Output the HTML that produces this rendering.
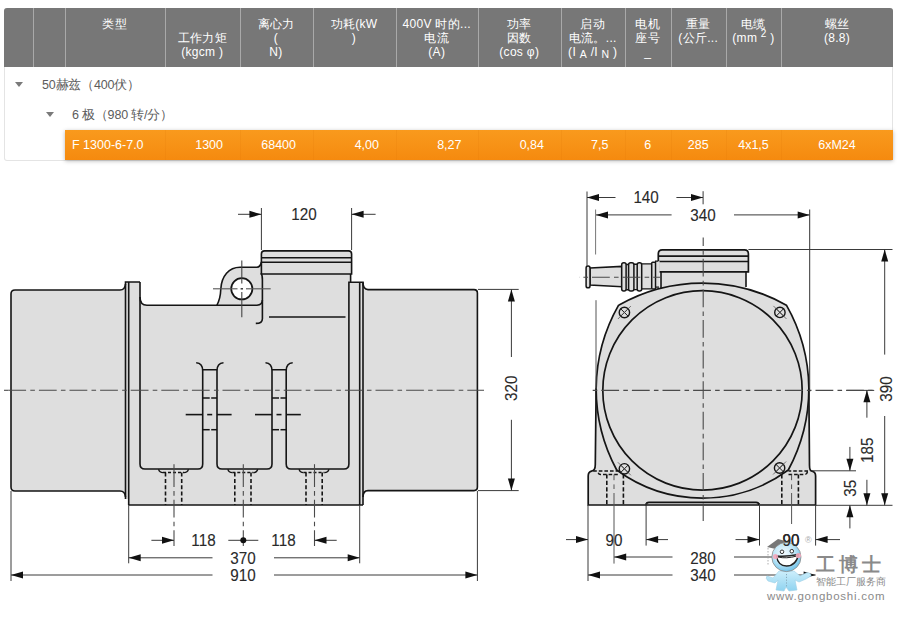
<!DOCTYPE html>
<html><head><meta charset="utf-8">
<style>
html,body{margin:0;padding:0;background:#fff;width:900px;height:617px;overflow:hidden;position:relative;font-family:"Liberation Sans",sans-serif;}
.tbl{position:absolute;left:4px;top:8px;width:889px;height:152.5px;border:1px solid #e4e4e4;border-top:none;box-sizing:border-box;border-radius:3px;background:#fff;}
.hdr{position:absolute;left:4px;top:8px;width:889px;height:59px;background:#777;border-radius:3px 3px 0 0;}
.vd{position:absolute;top:8px;height:59px;width:1px;background:#a9a9a9;}
.ht{position:absolute;color:#fff;font-size:12px;line-height:14px;text-align:center;white-space:nowrap;letter-spacing:0.3px;}
.row{position:absolute;color:#5c5c5c;font-size:12.5px;letter-spacing:-0.2px;}
.tri{position:absolute;width:0;height:0;border-left:4.5px solid transparent;border-right:4.5px solid transparent;border-top:5px solid #7a7a7a;}
.org{position:absolute;left:65px;top:130px;width:828px;height:29.5px;background:linear-gradient(#f99a1d,#f58a0f);box-shadow:0 1px 4px rgba(0,0,0,0.28);}
.od{position:absolute;top:130px;height:29.5px;width:1px;background:rgba(210,110,0,0.12);}
.ot{position:absolute;top:137px;color:#fff;font-size:12.5px;line-height:16px;white-space:nowrap;}
svg{position:absolute;left:0;top:0;}
svg text{font-family:"Liberation Sans",sans-serif;}
</style></head><body>
<div class="tbl"></div>
<div class="hdr"></div>
<div class="vd" style="left:33px"></div>
<div class="vd" style="left:64.5px"></div>
<div class="vd" style="left:165px"></div>
<div class="vd" style="left:239.5px"></div>
<div class="vd" style="left:312.5px"></div>
<div class="vd" style="left:395.5px"></div>
<div class="vd" style="left:478px"></div>
<div class="vd" style="left:560.5px"></div>
<div class="vd" style="left:625px"></div>
<div class="vd" style="left:670.5px"></div>
<div class="vd" style="left:726px"></div>
<div class="vd" style="left:781px"></div>
<div class="ht" style="left:64.5px;width:100.5px;top:17px">类型</div>
<div class="ht" style="left:165px;width:74.5px;top:17px">&nbsp;<br>工作力矩<br>(kgcm )</div>
<div class="ht" style="left:239.5px;width:73.0px;top:17px">离心力<br>(<br>N)</div>
<div class="ht" style="left:312.5px;width:83.0px;top:17px">功耗(kW<br>)</div>
<div class="ht" style="left:395.5px;width:82.5px;top:17px">400V 时的...<br>电流<br>(A)</div>
<div class="ht" style="left:478px;width:82.5px;top:17px">功率<br>因数<br>(cos φ)</div>
<div class="ht" style="left:560.5px;width:64.5px;top:17px">启动<br>电流。...<br>(I <span style="font-size:10.5px;position:relative;top:2px">A</span> /I <span style="font-size:10.5px;position:relative;top:2px">N</span> )</div>
<div class="ht" style="left:625px;width:45.5px;top:17px">电机<br>座号<br>_</div>
<div class="ht" style="left:670.5px;width:55.5px;top:17px">重量<br>(公斤...</div>
<div class="ht" style="left:726px;width:55px;top:17px">电缆<br>(mm <sup style="font-size:10px;vertical-align:5px;line-height:0">2</sup> )</div>
<div class="ht" style="left:781px;width:112px;top:17px">螺丝<br>(8.8)</div>
<div class="tri" style="left:15px;top:82px"></div>
<div class="row" style="left:42px;top:77px">50赫兹（400伏）</div>
<div class="tri" style="left:46px;top:112px"></div>
<div class="row" style="left:72px;top:107px">6 极（980 转/分）</div>
<div class="org"></div>
<div class="od" style="left:165px"></div>
<div class="od" style="left:239.5px"></div>
<div class="od" style="left:312.5px"></div>
<div class="od" style="left:395.5px"></div>
<div class="od" style="left:478px"></div>
<div class="od" style="left:560.5px"></div>
<div class="od" style="left:625px"></div>
<div class="od" style="left:670.5px"></div>
<div class="od" style="left:726px"></div>
<div class="od" style="left:781px"></div>
<div class="ot" style="left:72px">F 1300-6-7.0</div>
<div class="ot" style="left:139.5px;width:83.5px;text-align:right">1300</div>
<div class="ot" style="left:212.5px;width:83.5px;text-align:right">68400</div>
<div class="ot" style="left:295.5px;width:83.5px;text-align:right">4,00</div>
<div class="ot" style="left:378px;width:83.5px;text-align:right">8,27</div>
<div class="ot" style="left:460.5px;width:83.5px;text-align:right">0,84</div>
<div class="ot" style="left:525px;width:83.5px;text-align:right">7,5</div>
<div class="ot" style="left:625px;width:45.5px;text-align:center">6</div>
<div class="ot" style="left:670.5px;width:55.5px;text-align:center">285</div>
<div class="ot" style="left:726px;width:55px;text-align:center">4x1,5</div>
<div class="ot" style="left:781px;width:112px;text-align:center">6xM24</div>
<svg width="900" height="617" viewBox="0 0 900 617">
<path d="M11,294 Q11,290 15,290 L120,290 Q125,290 125.5,284 L125.5,282 L140,282 L140,297 Q140,305.3 147,305.3 L216.8,305.3 C219.8,300 220.6,295 220.8,289 C221.5,276 229,267.3 240,267.3 L256.9,267.3 Q260.5,267 261.4,262 L261.4,254 Q261.4,250.9 264.5,250.9 L348.5,250.9 Q351.6,250.9 351.6,254 L351.6,274 L350.6,274 L350.6,282.3 L363,282.3 Q363,289.6 368,289.6 L474,289.6 Q477.4,289.6 477.4,293 L477.4,487 Q477.4,490.6 474,490.6 L368,490.6 Q363,490.6 363,497 L363,505 L129,505 L129,499 L125.5,499 Q125,491 120,491 L15,491 Q11,491 11,487 Z" fill="#dedede" stroke="none" stroke-width="1.6" />
<path d="M125.5,284 Q125,290 120,290 L15,290 Q11,290 11,294 L11,487 Q11,491 15,491 L120,491 Q125,491 125.5,497" fill="none" stroke="#151515" stroke-width="1.6" />
<path d="M125.5,499 L125.5,282 L140,282" fill="none" stroke="#151515" stroke-width="1.6" />
<path d="M128.7,282 L128.7,505" fill="none" stroke="#151515" stroke-width="1.6" />
<path d="M140,282 L140,297 Q140,305.3 147,305.3 L216.8,305.3 C219.8,300 220.6,295 220.8,289 C221.5,276 229,267.3 240,267.3 L256.9,267.3 Q260.5,267 261.4,262" fill="none" stroke="#151515" stroke-width="1.6" />
<path d="M216.8,305.3 L257,305.3 Q262.4,305 262.4,299.8 L262.4,280 Q262.4,275 261,273" fill="none" stroke="#151515" stroke-width="1.6" />
<path d="M262.4,300 L262.4,318.7 Q262.4,323.4 255.8,323.4" fill="none" stroke="#151515" stroke-width="1.6" />
<circle cx="241.8" cy="288.8" r="10.6" fill="#fff" stroke="#151515" stroke-width="1.7"/>
<line x1="213" y1="288.8" x2="237.5" y2="288.8" stroke="#555" stroke-width="1.1" />
<line x1="240.6" y1="288.8" x2="243" y2="288.8" stroke="#333" stroke-width="1.4" />
<line x1="246" y1="288.8" x2="270.7" y2="288.8" stroke="#555" stroke-width="1.1" />
<line x1="241.8" y1="260.4" x2="241.8" y2="283.5" stroke="#444" stroke-width="1.1" />
<line x1="241.8" y1="292" x2="241.8" y2="317.3" stroke="#444" stroke-width="1.1" />
<path d="M261.4,274 L261.4,254 Q261.4,250.9 264.5,250.9 L348.5,250.9 Q351.6,250.9 351.6,254 L351.6,274 Z" fill="#dedede" stroke="#151515" stroke-width="1.6" />
<line x1="261.4" y1="257.8" x2="351.6" y2="257.8" stroke="#151515" stroke-width="1.6" />
<line x1="261.4" y1="262.3" x2="351.6" y2="262.3" stroke="#151515" stroke-width="1.6" />
<path d="M350.6,274 L350.6,282.3" fill="none" stroke="#151515" stroke-width="1.6" />
<line x1="269" y1="317" x2="345.5" y2="317" stroke="#151515" stroke-width="1.6" />
<path d="M348.9,464 L348.9,282.3 L363,282.3 L363,505" fill="none" stroke="#151515" stroke-width="1.6" />
<path d="M359.7,282.3 L359.7,505" fill="none" stroke="#151515" stroke-width="1.6" />
<path d="M363,282.3 Q363,289.6 368,289.6 L474,289.6 Q477.4,289.6 477.4,293 L477.4,487 Q477.4,490.6 474,490.6 L368,490.6 Q363,490.6 363,497" fill="none" stroke="#151515" stroke-width="1.6" />
<line x1="128.7" y1="505" x2="363" y2="505" stroke="#151515" stroke-width="1.7" />
<path d="M140,297 L140,464 Q140,469 145,469 L198,469 Q202.7,469 202.7,464 L202.7,370.8 Q202.7,363 196.2,362.7 M202.7,369.7 L217,369.7 M223.5,362.7 Q217,363 217,370.8 L217,464 Q217,469 222,469 L267,469 Q272,469 272,464 L272,370.8 Q272,363 265.5,362.7 M272,369.7 L286.2,369.7 M292.7,362.7 Q286.2,363 286.2,370.8 L286.2,464 Q286.2,469 291,469 L344,469 Q348.9,469 348.9,464" fill="none" stroke="#151515" stroke-width="1.6" />
<line x1="202.7" y1="398" x2="209.7" y2="398" stroke="#151515" stroke-width="1.5" />
<line x1="211.2" y1="398" x2="217" y2="398" stroke="#151515" stroke-width="1.5" />
<line x1="202.7" y1="429.7" x2="209.7" y2="429.7" stroke="#151515" stroke-width="1.5" />
<line x1="211.2" y1="429.7" x2="217" y2="429.7" stroke="#151515" stroke-width="1.5" />
<line x1="185.7" y1="414.6" x2="202.7" y2="414.6" stroke="#151515" stroke-width="1.6" />
<line x1="207.2" y1="414.6" x2="212.2" y2="414.6" stroke="#151515" stroke-width="1.6" />
<line x1="217" y1="414.6" x2="231.6" y2="414.6" stroke="#151515" stroke-width="1.6" />
<line x1="272" y1="398" x2="279" y2="398" stroke="#151515" stroke-width="1.5" />
<line x1="280.5" y1="398" x2="286.2" y2="398" stroke="#151515" stroke-width="1.5" />
<line x1="272" y1="429.7" x2="279" y2="429.7" stroke="#151515" stroke-width="1.5" />
<line x1="280.5" y1="429.7" x2="286.2" y2="429.7" stroke="#151515" stroke-width="1.5" />
<line x1="255" y1="414.6" x2="272" y2="414.6" stroke="#151515" stroke-width="1.6" />
<line x1="276.5" y1="414.6" x2="281.5" y2="414.6" stroke="#151515" stroke-width="1.6" />
<line x1="286.2" y1="414.6" x2="300.8" y2="414.6" stroke="#151515" stroke-width="1.6" />
<path d="M158.5,469.3 Q159.5,472.6 163.0,472.6 M188.5,469.3 Q187.5,472.6 184.0,472.6" fill="none" stroke="#151515" stroke-width="1.3" />
<line x1="163.0" y1="472.6" x2="184.0" y2="472.6" stroke="#151515" stroke-width="1.5" stroke-dasharray="3,2"/>
<line x1="165.5" y1="472.6" x2="165.5" y2="505" stroke="#151515" stroke-width="1.6" stroke-dasharray="4,2.3"/>
<line x1="181.7" y1="472.6" x2="181.7" y2="505" stroke="#151515" stroke-width="1.6" stroke-dasharray="4,2.3"/>
<line x1="174.0" y1="464.2" x2="174.0" y2="469.6" stroke="#4a4a4a" stroke-width="1.1" />
<line x1="174.0" y1="469.6" x2="174.0" y2="546" stroke="#4a4a4a" stroke-width="1.1" stroke-dasharray="17.8,4.2,4.6,4.0" stroke-dashoffset="0.50"/>
<path d="M227.8,469.3 Q228.8,472.6 232.3,472.6 M257.8,469.3 Q256.8,472.6 253.3,472.6" fill="none" stroke="#151515" stroke-width="1.3" />
<line x1="232.3" y1="472.6" x2="253.3" y2="472.6" stroke="#151515" stroke-width="1.5" stroke-dasharray="3,2"/>
<line x1="234.8" y1="472.6" x2="234.8" y2="505" stroke="#151515" stroke-width="1.6" stroke-dasharray="4,2.3"/>
<line x1="251.0" y1="472.6" x2="251.0" y2="505" stroke="#151515" stroke-width="1.6" stroke-dasharray="4,2.3"/>
<line x1="243.3" y1="464.2" x2="243.3" y2="469.6" stroke="#4a4a4a" stroke-width="1.1" />
<line x1="243.3" y1="469.6" x2="243.3" y2="546" stroke="#4a4a4a" stroke-width="1.1" stroke-dasharray="17.8,4.2,4.6,4.0" stroke-dashoffset="0.50"/>
<path d="M299.0,469.3 Q300.0,472.6 303.5,472.6 M329.0,469.3 Q328.0,472.6 324.5,472.6" fill="none" stroke="#151515" stroke-width="1.3" />
<line x1="303.5" y1="472.6" x2="324.5" y2="472.6" stroke="#151515" stroke-width="1.5" stroke-dasharray="3,2"/>
<line x1="306.0" y1="472.6" x2="306.0" y2="505" stroke="#151515" stroke-width="1.6" stroke-dasharray="4,2.3"/>
<line x1="322.2" y1="472.6" x2="322.2" y2="505" stroke="#151515" stroke-width="1.6" stroke-dasharray="4,2.3"/>
<line x1="314.5" y1="464.2" x2="314.5" y2="469.6" stroke="#4a4a4a" stroke-width="1.1" />
<line x1="314.5" y1="469.6" x2="314.5" y2="546" stroke="#4a4a4a" stroke-width="1.1" stroke-dasharray="17.8,4.2,4.6,4.0" stroke-dashoffset="0.50"/>
<line x1="8.3" y1="390.3" x2="484" y2="390.3" stroke="#4a4a4a" stroke-width="1.1" stroke-dasharray="17.8,4.2,4.6,4.0" stroke-dashoffset="0.00"/>
<line x1="4" y1="390.3" x2="8.3" y2="390.3" stroke="#4a4a4a" stroke-width="1.1" />
<line x1="261.4" y1="208" x2="261.4" y2="250" stroke="#3a3a3a" stroke-width="1" />
<line x1="351.6" y1="208" x2="351.6" y2="250" stroke="#3a3a3a" stroke-width="1" />
<line x1="238" y1="214.3" x2="261.4" y2="214.3" stroke="#3a3a3a" stroke-width="1" />
<polygon points="261.4,214.3 249.4,217.8 249.4,210.8" fill="#111"/>
<line x1="375.6" y1="214.3" x2="351.6" y2="214.3" stroke="#3a3a3a" stroke-width="1" />
<polygon points="351.6,214.3 363.6,210.8 363.6,217.8" fill="#111"/>
<text x="0" y="0" font-size="17.2" fill="#2a2a2a" stroke="#2a2a2a" stroke-width="0.12" text-anchor="middle" dominant-baseline="central" transform="translate(304 213.6) scale(0.885 1)">120</text>
<line x1="478" y1="289.4" x2="518.7" y2="289.4" stroke="#3a3a3a" stroke-width="1" />
<line x1="478" y1="490.6" x2="518.7" y2="490.6" stroke="#3a3a3a" stroke-width="1" />
<line x1="511.4" y1="289.4" x2="511.4" y2="357" stroke="#3a3a3a" stroke-width="1" />
<polygon points="511.4,289.4 514.9,301.4 507.9,301.4" fill="#111"/>
<line x1="511.4" y1="419.8" x2="511.4" y2="490.6" stroke="#3a3a3a" stroke-width="1" />
<polygon points="511.4,490.6 507.9,478.6 514.9,478.6" fill="#111"/>
<text x="0" y="0" font-size="17.2" fill="#2a2a2a" stroke="#2a2a2a" stroke-width="0.12" text-anchor="middle" dominant-baseline="central" transform="translate(511.4 388.2) rotate(-90) translate(0 -0.9) scale(0.885 1)">320</text>
<line x1="11" y1="491" x2="11" y2="581" stroke="#3a3a3a" stroke-width="1" />
<line x1="128.7" y1="505" x2="128.7" y2="563.3" stroke="#3a3a3a" stroke-width="1" />
<line x1="359.7" y1="505" x2="359.7" y2="563.3" stroke="#3a3a3a" stroke-width="1" />
<line x1="477.4" y1="491" x2="477.4" y2="581" stroke="#3a3a3a" stroke-width="1" />
<line x1="151.4" y1="540.3" x2="174" y2="540.3" stroke="#3a3a3a" stroke-width="1" />
<polygon points="174.0,540.3 162.0,543.8 162.0,536.8" fill="#111"/>
<text x="0" y="0" font-size="17.2" fill="#2a2a2a" stroke="#2a2a2a" stroke-width="0.12" text-anchor="middle" dominant-baseline="central" transform="translate(203.5 539.6) scale(0.885 1)">118</text>
<line x1="228.3" y1="540.3" x2="258.3" y2="540.3" stroke="#3a3a3a" stroke-width="1" />
<circle cx="243.3" cy="540.3" r="3" fill="#111"/>
<text x="0" y="0" font-size="17.2" fill="#2a2a2a" stroke="#2a2a2a" stroke-width="0.12" text-anchor="middle" dominant-baseline="central" transform="translate(283.5 539.6) scale(0.885 1)">118</text>
<line x1="336.7" y1="540.3" x2="314.5" y2="540.3" stroke="#3a3a3a" stroke-width="1" />
<polygon points="314.5,540.3 326.5,536.8 326.5,543.8" fill="#111"/>
<line x1="128.7" y1="557.8" x2="212.5" y2="557.8" stroke="#3a3a3a" stroke-width="1" />
<polygon points="128.7,557.8 140.7,554.3 140.7,561.3" fill="#111"/>
<line x1="274" y1="557.8" x2="359.7" y2="557.8" stroke="#3a3a3a" stroke-width="1" />
<polygon points="359.7,557.8 347.7,561.3 347.7,554.3" fill="#111"/>
<text x="0" y="0" font-size="17.2" fill="#2a2a2a" stroke="#2a2a2a" stroke-width="0.12" text-anchor="middle" dominant-baseline="central" transform="translate(243 557.4) scale(0.885 1)">370</text>
<line x1="11" y1="575" x2="212.5" y2="575" stroke="#3a3a3a" stroke-width="1" />
<polygon points="11.0,575.0 23.0,571.5 23.0,578.5" fill="#111"/>
<line x1="274" y1="575" x2="477.4" y2="575" stroke="#3a3a3a" stroke-width="1" />
<polygon points="477.4,575.0 465.4,578.5 465.4,571.5" fill="#111"/>
<text x="0" y="0" font-size="17.2" fill="#2a2a2a" stroke="#2a2a2a" stroke-width="0.12" text-anchor="middle" dominant-baseline="central" transform="translate(243 575.1) scale(0.885 1)">910</text>
<path d="M661,268 L746,268 L746,292 L661,292 Z" fill="#dedede" stroke="none" stroke-width="1.6" />
<path d="M618.6,305.2 A170,170 0 0 1 786.4,305.2 A172,172 0 0 1 808.85,388 L809.5,465.5 Q809.5,470.8 812,471.2 Q815.6,472 815.6,476 L815.6,505 L588.2,505 L588.2,476 Q588.2,472 591.5,471.2 Q595.3,470.8 595.3,464.6 L596.15,388 A172,172 0 0 1 618.6,305.2 Z" fill="#dedede" stroke="none" stroke-width="1.6" />
<path d="M661,271 L661,288.5" fill="none" stroke="#151515" stroke-width="1.6" />
<path d="M746,271 L746,287" fill="none" stroke="#151515" stroke-width="1.6" />
<path d="M618.6,305.2 A170,170 0 0 1 786.4,305.2 A172,172 0 0 1 808.85,388 L809.5,465.5 Q809.5,470.8 812,471.2 Q815.6,472 815.6,476 L815.6,505 L588.2,505 L588.2,476 Q588.2,472 591.5,471.2 Q595.3,470.8 595.3,464.6 L596.15,388 A172,172 0 0 1 618.6,305.2" fill="none" stroke="#151515" stroke-width="1.7" />
<path d="M646.1,505 L646.1,505.5 L646.1,505 Q646.1,502.4 649,502.4 L756.0,502.4 Q758.9,502.4 758.9,505" fill="none" stroke="#151515" stroke-width="1.6" />
<path d="M596.15,388 A172,172 0 0 0 616.7,470 A145,145 0 0 0 788.3,470 A172,172 0 0 0 808.85,388" fill="none" stroke="#151515" stroke-width="1.7" />
<circle cx="702.5" cy="390.4" r="99.7" fill="none" stroke="#151515" stroke-width="1.7"/>
<path d="M593.2,471.1 L617.8,471.1 M617.8,474.4 L600.5,474.4 Q598.3,474.4 598,471.5" stroke="#151515" stroke-width="1.5" stroke-dasharray="3.6,2" fill="none"/>
<path d="M808,471.1 L788.5,471.1 M788.5,474.4 L805,474.4 Q807,474.4 807.5,471.5" stroke="#151515" stroke-width="1.5" stroke-dasharray="3.6,2" fill="none"/>
<line x1="606.8" y1="474.4" x2="606.8" y2="505" stroke="#151515" stroke-width="1.6" stroke-dasharray="4.2,2.2"/>
<line x1="623.4" y1="474.4" x2="623.4" y2="505" stroke="#151515" stroke-width="1.6" stroke-dasharray="4.2,2.2"/>
<line x1="781.8" y1="474.4" x2="781.8" y2="505" stroke="#151515" stroke-width="1.6" stroke-dasharray="4.2,2.2"/>
<line x1="798.4" y1="474.4" x2="798.4" y2="505" stroke="#151515" stroke-width="1.6" stroke-dasharray="4.2,2.2"/>
<circle cx="624.4" cy="312.5" r="5.2" fill="#dedede" stroke="#151515" stroke-width="1.4"/>
<line x1="620.6999999999999" y1="308.8" x2="628.1" y2="316.2" stroke="#151515" stroke-width="1" />
<line x1="620.6999999999999" y1="316.2" x2="628.1" y2="308.8" stroke="#151515" stroke-width="1" />
<line x1="617.9" y1="319.0" x2="630.9" y2="306.0" stroke="#555" stroke-width="0.8" />
<circle cx="779.9" cy="312.4" r="5.2" fill="#dedede" stroke="#151515" stroke-width="1.4"/>
<line x1="776.1999999999999" y1="308.7" x2="783.6" y2="316.09999999999997" stroke="#151515" stroke-width="1" />
<line x1="776.1999999999999" y1="316.09999999999997" x2="783.6" y2="308.7" stroke="#151515" stroke-width="1" />
<line x1="773.4" y1="305.9" x2="786.4" y2="318.9" stroke="#555" stroke-width="0.8" />
<circle cx="624.4" cy="468.8" r="5.2" fill="#dedede" stroke="#151515" stroke-width="1.4"/>
<line x1="620.6999999999999" y1="465.1" x2="628.1" y2="472.5" stroke="#151515" stroke-width="1" />
<line x1="620.6999999999999" y1="472.5" x2="628.1" y2="465.1" stroke="#151515" stroke-width="1" />
<line x1="617.9" y1="462.3" x2="630.9" y2="475.3" stroke="#555" stroke-width="0.8" />
<circle cx="779.6" cy="468.0" r="5.2" fill="#dedede" stroke="#151515" stroke-width="1.4"/>
<line x1="775.9" y1="464.3" x2="783.3000000000001" y2="471.7" stroke="#151515" stroke-width="1" />
<line x1="775.9" y1="471.7" x2="783.3000000000001" y2="464.3" stroke="#151515" stroke-width="1" />
<line x1="773.1" y1="474.5" x2="786.1" y2="461.5" stroke="#555" stroke-width="0.8" />
<path d="M658.3,271.8 L658.3,253.8 Q658.3,249.8 662.3,249.8 L744.4,249.8 Q748.4,249.8 748.4,253.8 L748.4,271.8 Z" fill="#dedede" stroke="#151515" stroke-width="1.7" />
<line x1="658.3" y1="256.1" x2="748.4" y2="256.1" stroke="#151515" stroke-width="1.6" />
<line x1="658.3" y1="261.5" x2="748.4" y2="261.5" stroke="#151515" stroke-width="1.6" />
<path d="M590,268 L621.7,266.4 L621.7,286.7 L590,285 Z" fill="#dedede" stroke="#151515" stroke-width="1.5" />
<path d="M624,264.2 L651.7,263.9 L651.7,288.9 L624,290 Z" fill="#dedede" stroke="none" stroke-width="1.6" />
<path d="M641.7,263.9 L651.7,263.9 M641.7,288.9 L651.7,288.9 M633.9,264.3 L637.2,264.3 M633.9,289.6 L637.2,289.6 M626.1,264.5 L628.6,264.5 M626.1,289.8 L628.6,289.8" fill="none" stroke="#151515" stroke-width="1.4" />
<rect x="586.1" y="266.1" width="3.9" height="21.7" rx="1.9" fill="#dedede" stroke="#151515" stroke-width="1.5"/>
<rect x="621.7" y="262.8" width="4.4" height="28.3" rx="2" fill="#dedede" stroke="#151515" stroke-width="1.5"/>
<rect x="628.6" y="262.8" width="5.3" height="28.3" rx="2" fill="#dedede" stroke="#151515" stroke-width="1.5"/>
<rect x="637.2" y="262.8" width="4.5" height="28.3" rx="2" fill="#dedede" stroke="#151515" stroke-width="1.5"/>
<rect x="651.7" y="262.2" width="3.9" height="26.7" rx="1" fill="#dedede" stroke="#151515" stroke-width="1.5"/>
<rect x="655.6" y="261.1" width="4" height="26.1" fill="#dedede" stroke="none"/>
<path d="M655.6,287.2 L655.6,261.1 L658.3,261.1 M655.6,287.2 L659,287.2" fill="none" stroke="#151515" stroke-width="1.3"/>
<line x1="579" y1="277.2" x2="660" y2="277.2" stroke="#4a4a4a" stroke-width="1.1" stroke-dasharray="17.8,4.2,4.6,4.0" stroke-dashoffset="17.60"/>
<line x1="703.2" y1="237.4" x2="703.2" y2="521" stroke="#4a4a4a" stroke-width="1.1" stroke-dasharray="17.8,4.2,4.6,4.0" stroke-dashoffset="9.20"/>
<line x1="589.7" y1="390.4" x2="874.2" y2="390.4" stroke="#4a4a4a" stroke-width="1.1" stroke-dasharray="17.8,4.2,4.6,4.0" stroke-dashoffset="19.00"/>
<line x1="846.7" y1="390.4" x2="874.2" y2="390.4" stroke="#4a4a4a" stroke-width="1.1" />
<line x1="587" y1="191.5" x2="587" y2="266" stroke="#3a3a3a" stroke-width="1" />
<line x1="703.1" y1="191.2" x2="703.1" y2="204.3" stroke="#3a3a3a" stroke-width="1" />
<line x1="587" y1="197.5" x2="615.5" y2="197.5" stroke="#3a3a3a" stroke-width="1" />
<polygon points="587.0,197.5 599.0,194.0 599.0,201.0" fill="#111"/>
<line x1="676.4" y1="197.5" x2="703" y2="197.5" stroke="#3a3a3a" stroke-width="1" />
<polygon points="703.0,197.5 691.0,201.0 691.0,194.0" fill="#111"/>
<text x="0" y="0" font-size="17.2" fill="#2a2a2a" stroke="#2a2a2a" stroke-width="0.12" text-anchor="middle" dominant-baseline="central" transform="translate(646.1 196.79999999999998) scale(0.885 1)">140</text>
<line x1="595.6" y1="209.5" x2="595.6" y2="254.5" stroke="#777" stroke-width="1" />
<line x1="809.7" y1="209.5" x2="809.7" y2="392" stroke="#333" stroke-width="1" />
<line x1="596" y1="300.2" x2="596" y2="389" stroke="#555" stroke-width="1" />
<line x1="596" y1="214.9" x2="671.6" y2="214.9" stroke="#3a3a3a" stroke-width="1" />
<polygon points="596.0,214.9 608.0,211.4 608.0,218.4" fill="#111"/>
<line x1="734" y1="214.9" x2="809.7" y2="214.9" stroke="#3a3a3a" stroke-width="1" />
<polygon points="809.7,214.9 797.7,218.4 797.7,211.4" fill="#111"/>
<text x="0" y="0" font-size="17.2" fill="#2a2a2a" stroke="#2a2a2a" stroke-width="0.12" text-anchor="middle" dominant-baseline="central" transform="translate(703 214.2) scale(0.885 1)">340</text>
<line x1="748.4" y1="249.5" x2="892.5" y2="249.5" stroke="#3a3a3a" stroke-width="1" />
<line x1="884.7" y1="249.5" x2="884.7" y2="354.6" stroke="#3a3a3a" stroke-width="1" />
<polygon points="884.7,249.5 888.2,261.5 881.2,261.5" fill="#111"/>
<line x1="884.7" y1="416" x2="884.7" y2="505.3" stroke="#3a3a3a" stroke-width="1" />
<polygon points="884.7,505.3 881.2,493.3 888.2,493.3" fill="#111"/>
<text x="0" y="0" font-size="17.2" fill="#2a2a2a" stroke="#2a2a2a" stroke-width="0.12" text-anchor="middle" dominant-baseline="central" transform="translate(886.1 389) rotate(-90) translate(0 -0.9) scale(0.885 1)">390</text>
<line x1="815.6" y1="505.3" x2="892.5" y2="505.3" stroke="#3a3a3a" stroke-width="1" />
<line x1="812" y1="470.8" x2="856" y2="470.8" stroke="#3a3a3a" stroke-width="1" />
<line x1="866.9" y1="390.2" x2="866.9" y2="417.7" stroke="#3a3a3a" stroke-width="1" />
<polygon points="866.9,390.2 870.4,402.2 863.4,402.2" fill="#111"/>
<line x1="866.9" y1="479.8" x2="866.9" y2="505.3" stroke="#3a3a3a" stroke-width="1" />
<polygon points="866.9,505.3 863.4,493.3 870.4,493.3" fill="#111"/>
<text x="0" y="0" font-size="17.2" fill="#2a2a2a" stroke="#2a2a2a" stroke-width="0.12" text-anchor="middle" dominant-baseline="central" transform="translate(867.5 450.3) rotate(-90) translate(0 -0.9) scale(0.885 1)">185</text>
<line x1="849.9" y1="446.9" x2="849.9" y2="470.8" stroke="#3a3a3a" stroke-width="1" />
<polygon points="849.9,470.8 846.4,458.8 853.4,458.8" fill="#111"/>
<line x1="849.9" y1="505.3" x2="849.9" y2="528.4" stroke="#3a3a3a" stroke-width="1" />
<polygon points="849.9,505.3 853.4,517.3 846.4,517.3" fill="#111"/>
<text x="0" y="0" font-size="17.2" fill="#2a2a2a" stroke="#2a2a2a" stroke-width="0.12" text-anchor="middle" dominant-baseline="central" transform="translate(851 488.3) rotate(-90) translate(0 -0.9) scale(0.885 1)">35</text>
<line x1="588" y1="505" x2="588" y2="581" stroke="#3a3a3a" stroke-width="1" />
<line x1="646.1" y1="503" x2="646.1" y2="545.6" stroke="#3a3a3a" stroke-width="1" />
<line x1="759.5" y1="503" x2="759.5" y2="545.6" stroke="#3a3a3a" stroke-width="1" />
<line x1="815.6" y1="505" x2="815.6" y2="545.6" stroke="#3a3a3a" stroke-width="1" />
<line x1="614" y1="474.5" x2="614" y2="493" stroke="#555" stroke-width="1" stroke-dasharray="17.8,4.2,4.6,4.0" stroke-dashoffset="12.10"/>
<line x1="614" y1="493" x2="614" y2="563.6" stroke="#555" stroke-width="1" />
<line x1="791.6" y1="474.5" x2="791.6" y2="493" stroke="#555" stroke-width="1" stroke-dasharray="17.8,4.2,4.6,4.0" stroke-dashoffset="12.10"/>
<line x1="791.6" y1="493" x2="791.6" y2="524" stroke="#555" stroke-width="1" />
<line x1="566" y1="539.6" x2="588" y2="539.6" stroke="#3a3a3a" stroke-width="1" />
<polygon points="588.0,539.6 576.0,543.1 576.0,536.1" fill="#111"/>
<text x="0" y="0" font-size="17.2" fill="#2a2a2a" stroke="#2a2a2a" stroke-width="0.12" text-anchor="middle" dominant-baseline="central" transform="translate(614 539.4) scale(0.885 1)">90</text>
<line x1="668" y1="539.6" x2="646.1" y2="539.6" stroke="#3a3a3a" stroke-width="1" />
<polygon points="646.1,539.6 658.1,536.1 658.1,543.1" fill="#111"/>
<line x1="735.5" y1="539.6" x2="759.5" y2="539.6" stroke="#3a3a3a" stroke-width="1" />
<polygon points="759.5,539.6 747.5,543.1 747.5,536.1" fill="#111"/>
<text x="0" y="0" font-size="17.2" fill="#2a2a2a" stroke="#2a2a2a" stroke-width="0.12" text-anchor="middle" dominant-baseline="central" transform="translate(791 539.4) scale(0.885 1)">90</text>
<line x1="840" y1="539.6" x2="815.6" y2="539.6" stroke="#3a3a3a" stroke-width="1" />
<polygon points="815.6,539.6 827.6,536.1 827.6,543.1" fill="#111"/>
<line x1="614.2" y1="557" x2="672.5" y2="557" stroke="#3a3a3a" stroke-width="1" />
<polygon points="614.2,557.0 626.2,553.5 626.2,560.5" fill="#111"/>
<line x1="734" y1="557" x2="791.6" y2="557" stroke="#3a3a3a" stroke-width="1" />
<polygon points="791.6,557.0 779.6,560.5 779.6,553.5" fill="#111"/>
<text x="0" y="0" font-size="17.2" fill="#2a2a2a" stroke="#2a2a2a" stroke-width="0.12" text-anchor="middle" dominant-baseline="central" transform="translate(703 557.3000000000001) scale(0.885 1)">280</text>
<line x1="588" y1="575" x2="672.5" y2="575" stroke="#3a3a3a" stroke-width="1" />
<polygon points="588.0,575.0 600.0,571.5 600.0,578.5" fill="#111"/>
<line x1="734" y1="575" x2="815.6" y2="575" stroke="#3a3a3a" stroke-width="1" />
<polygon points="815.6,575.0 803.6,578.5 803.6,571.5" fill="#111"/>
<text x="0" y="0" font-size="17.2" fill="#2a2a2a" stroke="#2a2a2a" stroke-width="0.12" text-anchor="middle" dominant-baseline="central" transform="translate(703 575.1) scale(0.885 1)">340</text>
</svg>
<div style="position:absolute;left:816px;top:552px;font-size:19px;color:#8a8a8a;letter-spacing:4px;font-family:'Liberation Serif',serif;font-weight:bold">工博士</div>
<div style="position:absolute;left:816px;top:575px;font-size:10px;color:#8a8a8a;">智能工厂服务商</div>
<div style="position:absolute;left:767px;top:590px;font-size:11.5px;color:#8a8a8a;letter-spacing:0.75px">www.gongboshi.com</div>
<div style="position:absolute;left:805px;top:535px;font-size:9px;color:#aaa;">®</div>
<svg width="900" height="617" style="left:0;top:0" viewBox="0 0 900 617">
<defs><radialGradient id="hg" cx="0.42" cy="0.38" r="0.65"><stop offset="0" stop-color="#f4fbff"/><stop offset="0.55" stop-color="#bfe6f7"/><stop offset="1" stop-color="#6cc0e8"/></radialGradient>
<linearGradient id="bg" x1="0" y1="0" x2="0" y2="1"><stop offset="0" stop-color="#cdeefb"/><stop offset="1" stop-color="#8fd3f0"/></linearGradient></defs>
<path d="M779,571 L773,578 L767,576 Q765,578 768,581 L775,583 L778,580 L776,590 L784,591 L786,587 L789,591 L797,590 L795,580 L799,582 L806,579 L811,576 Q811,572 806,573 L800,576 L794,571 Z" fill="url(#bg)" stroke="#9fd0e6" stroke-width="0.6"/>
<line x1="786.5" y1="574" x2="786.5" y2="588" stroke="#8ab" stroke-width="1" stroke-dasharray="1.2,1.6"/>
<polygon points="767,547 778,539 789,542 780,550" fill="#777"/>
<line x1="768" y1="548" x2="768" y2="566" stroke="#999" stroke-width="0.8" stroke-dasharray="1.5,1.5"/>
<circle cx="786.4" cy="557" r="14.6" fill="url(#hg)" stroke="#8a7f7a" stroke-width="0.7"/>
<path d="M776.5,556 Q786,557 798.5,554.5 Q796,566 786.5,566 Q778,566 776.5,556 Z" fill="#fff" stroke="#222" stroke-width="1.4"/>
<path d="M778,557 Q786,559 797,556" stroke="#222" stroke-width="1" fill="none"/>
<circle cx="782" cy="551.8" r="1.8" fill="#fff" stroke="#333" stroke-width="1"/>
<circle cx="791.8" cy="551.2" r="1.8" fill="#fff" stroke="#333" stroke-width="1"/>
<circle cx="775.5" cy="556.5" r="2.6" fill="#f5a9bd" opacity="0.9"/>
<circle cx="798.4" cy="555.5" r="2.6" fill="#f5a9bd" opacity="0.9"/>
<text x="0" y="0" font-size="17.2" fill="#2a2a2a" stroke="#2a2a2a" stroke-width="0.12" text-anchor="middle" dominant-baseline="central" transform="translate(791 539.4) scale(0.885 1)">90</text>
</svg>
</body></html>
